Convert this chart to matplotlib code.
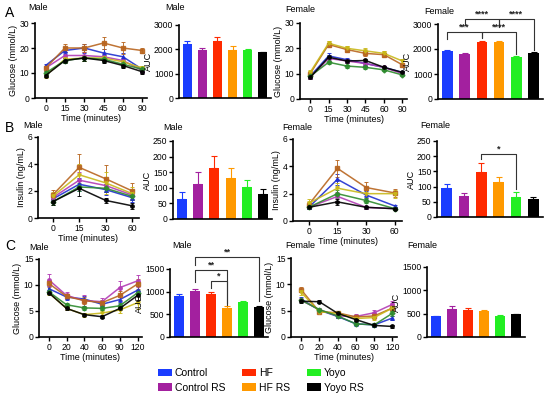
import matplotlib
matplotlib.use("Agg")
import matplotlib.pyplot as plt
from matplotlib.patches import Patch

plt.rcParams['font.family'] = ['Liberation Sans', 'DejaVu Sans']

groups = ['Control', 'Control RS', 'HF', 'HF RS', 'Yoyo', 'Yoyo RS']
bar_colors = ['#1a3cff', '#a3209f', '#ff2a00', '#ff9900', '#22ee22', '#000000']
line_colors = ['#1f2fd0', '#b23cb4', '#b8651f', '#c9b81a', '#2e8b2e', '#000000']
markers = ['^', 'o', 's', 'v', 'D', 'o']

# A: glucose tolerance test
gtt_t = ['0', '15', '30', '45', '60', '90']
gtt_male = {
    'Control':    [13, 19, 20, 18, 16.5, 11.5],
    'Control RS': [12, 17, 17, 16.5, 15, 11],
    'HF':         [12, 20, 20, 22, 20, 19],
    'HF RS':      [9, 15.5, 16, 16, 14.5, 12],
    'Yoyo':       [10, 15, 16, 15.5, 13.5, 11.5],
    'Yoyo RS':    [9, 15, 16, 15, 13, 10.5],
}
gtt_male_sd = {
    'Control':    [0.8, 1.5, 1.8, 1.5, 1.5, 1.0],
    'Control RS': [1.0, 1.5, 1.5, 1.5, 1.2, 1.0],
    'HF':         [1.0, 1.5, 1.5, 2.5, 2.5, 1.0],
    'HF RS':      [0.8, 1.2, 1.2, 1.2, 1.2, 1.0],
    'Yoyo':       [0.8, 1.0, 1.0, 1.0, 1.0, 0.8],
    'Yoyo RS':    [0.6, 1.0, 1.0, 1.0, 1.0, 0.8],
}
gtt_female = {
    'Control':    [9, 17, 15.5, 14, 12.5, 10.5],
    'Control RS': [8.5, 16, 15, 14, 12.5, 10],
    'HF':         [10, 21.5, 19.5, 18, 17.5, 13.5],
    'HF RS':      [10.5, 22, 20, 19, 18, 15],
    'Yoyo':       [9, 14.5, 13, 12.5, 11.5, 9.5],
    'Yoyo RS':    [8.5, 16.5, 15, 15.2, 12.5, 10.5],
}
gtt_female_sd = {
    'Control':    [0.6, 1.0, 0.8, 0.8, 0.7, 0.6],
    'Control RS': [0.6, 0.8, 0.8, 0.8, 0.7, 0.6],
    'HF':         [0.6, 0.8, 0.8, 0.9, 0.8, 0.8],
    'HF RS':      [0.6, 0.8, 0.9, 1.2, 0.9, 0.9],
    'Yoyo':       [0.5, 0.6, 0.6, 0.6, 0.6, 0.5],
    'Yoyo RS':    [0.5, 0.7, 0.7, 0.7, 0.6, 0.5],
}
gtt_auc_male = [2210, 1980, 2360, 1980, 1980, 1870]
gtt_auc_male_sd = [120, 80, 150, 150, 50, 30]
gtt_auc_female = [1910, 1820, 2280, 2280, 1690, 1850]
gtt_auc_female_sd = [50, 40, 50, 60, 30, 50]

# B: insulin
ins_t = ['0', '15', '30', '60']
ins_male = {
    'Control':    [1.4, 2.5, 2.1, 1.5],
    'Control RS': [1.5, 2.8, 2.4, 1.7],
    'HF':         [1.7, 3.75, 2.9, 2.0],
    'HF RS':      [1.6, 3.2, 2.6, 1.8],
    'Yoyo':       [1.2, 2.3, 2.2, 1.6],
    'Yoyo RS':    [1.2, 2.2, 1.3, 0.9],
}
ins_male_sd = {
    'Control':    [0.2, 0.5, 0.4, 0.3],
    'Control RS': [0.3, 0.6, 0.5, 0.4],
    'HF':         [0.4, 1.0, 1.0, 0.6],
    'HF RS':      [0.3, 0.8, 0.8, 0.5],
    'Yoyo':       [0.2, 0.3, 0.3, 0.3],
    'Yoyo RS':    [0.2, 0.6, 0.2, 0.2],
}
ins_female = {
    'Control':    [1.0, 3.05, 1.9, 1.1],
    'Control RS': [1.0, 1.8, 1.0, 0.9],
    'HF':         [1.2, 3.85, 2.45, 2.05],
    'HF RS':      [1.3, 2.4, 2.0, 2.0],
    'Yoyo':       [1.0, 2.0, 1.5, 0.9],
    'Yoyo RS':    [1.0, 1.4, 1.0, 0.9],
}
ins_female_sd = {
    'Control':    [0.1, 0.4, 0.3, 0.1],
    'Control RS': [0.1, 0.3, 0.1, 0.1],
    'HF':         [0.2, 0.6, 0.4, 0.3],
    'HF RS':      [0.3, 0.4, 0.3, 0.3],
    'Yoyo':       [0.1, 0.3, 0.2, 0.1],
    'Yoyo RS':    [0.1, 0.2, 0.1, 0.1],
}
ins_auc_male = [64, 113, 164, 131, 104, 81]
ins_auc_male_sd = [24, 38, 37, 34, 20, 16]
ins_auc_female = [94, 68, 149, 115, 66, 60]
ins_auc_female_sd = [15, 12, 28, 15, 15, 7]

# C: insulin tolerance test
itt_t = ['0', '20', '40', '60', '90', '120']
itt_male = {
    'Control':    [9.3, 7.7, 7.3, 6.3, 7.2, 9.0],
    'Control RS': [11, 8.0, 7.0, 6.8, 9.5, 10.8],
    'HF':         [10.3, 7.8, 7.0, 6.6, 8.0, 10.2],
    'HF RS':      [8.5, 5.5, 4.3, 4.6, 5.2, 6.6],
    'Yoyo':       [8.7, 6.2, 5.6, 5.5, 6.0, 8.5],
    'Yoyo RS':    [8.5, 5.5, 4.3, 3.9, 5.5, 8.0],
}
itt_male_sd = {
    'Control':    [0.6, 0.5, 0.5, 0.5, 0.8, 0.8],
    'Control RS': [1.2, 0.6, 1.0, 0.7, 1.2, 1.2],
    'HF':         [0.6, 0.5, 0.6, 0.6, 0.8, 0.9],
    'HF RS':      [0.5, 0.4, 0.4, 0.5, 0.6, 1.2],
    'Yoyo':       [0.3, 0.4, 0.4, 0.4, 0.5, 0.6],
    'Yoyo RS':    [0.3, 0.3, 0.3, 0.3, 0.4, 0.8],
}
itt_female = {
    'Control':    [7.2, 5.1, 3.9, 2.5, 2.3, 3.6],
    'Control RS': [7.0, 5.2, 4.0, 3.9, 4.6, 6.2],
    'HF':         [9.0, 4.8, 4.6, 3.8, 4.0, 5.5],
    'HF RS':      [8.5, 4.8, 4.5, 3.5, 3.7, 5.5],
    'Yoyo':       [7.0, 5.2, 4.0, 2.5, 2.3, 4.5],
    'Yoyo RS':    [6.8, 6.7, 4.5, 3.3, 2.2, 2.0],
}
itt_female_sd = {
    'Control':    [0.4, 0.3, 0.3, 0.3, 0.3, 0.4],
    'Control RS': [0.4, 0.3, 0.3, 0.4, 0.5, 0.6],
    'HF':         [0.5, 0.3, 0.3, 0.4, 0.5, 0.6],
    'HF RS':      [0.5, 0.3, 0.3, 0.4, 0.5, 0.5],
    'Yoyo':       [0.3, 0.3, 0.3, 0.3, 0.3, 0.5],
    'Yoyo RS':    [0.3, 0.3, 0.3, 0.3, 0.3, 0.3],
}
itt_auc_male = [896, 1005, 947, 641, 765, 655]
itt_auc_male_sd = [60, 50, 50, 40, 30, 30]
itt_auc_female = [440, 605, 584, 548, 454, 483]
itt_auc_female_sd = [15, 50, 40, 25, 15, 10]

# significance brackets: (left bar, right bar, height, left leg end, right leg end, label)
sig_gtt_female = [(0, 2, 2680, 2400, 2480, '***'), (2, 4, 2680, 2450, 1800, '****'),
                  (1, 3, 3210, 2950, 2900, '****'), (3, 5, 3210, 2950, 1950, '****')]
sig_ins_female = [(2, 4, 208, 190, 91, '*')]
sig_itt_male = [(1, 5, 1770, 1590, 790, '**'), (1, 3, 1480, 1220, 710, '**'),
                (2, 3, 1245, 1090, 740, '*')]

W, H = 550, 396
fig = plt.figure(figsize=(W / 100, H / 100), dpi=100)
FS = 6.5


def box(l, t, r, b):
    return fig.add_axes([l / W, 1 - b / H, (r - l) / W, (b - t) / H])


def style(ax, yticks):
    for s in ['top', 'right']:
        ax.spines[s].set_visible(False)
    for s in ['left', 'bottom']:
        ax.spines[s].set_linewidth(1.2)
    ax.set_yticks(yticks)
    ax.set_ylim(yticks[0], yticks[-1])
    ax.tick_params(labelsize=6.2, width=1, length=2.8, pad=1.2)


def line_panel(pos, times, means, sds, yticks, ylabel):
    ax = box(*pos)
    x = list(range(len(times)))
    for g, c, m in zip(groups, line_colors, markers):
        ax.errorbar(x, means[g], yerr=sds[g], color=c, ecolor=c, elinewidth=0.7,
                    capsize=1.5, capthick=0.7, lw=1.1, marker=m, ms=2.5,
                    alpha=0.9)
    style(ax, yticks)
    ax.set_xticks(x)
    ax.set_xticklabels(times)
    ax.set_xlim(-0.55, len(times) - 0.75)
    ax.set_xlabel('Time (minutes)', fontsize=FS, labelpad=1)
    ax.set_ylabel(ylabel, fontsize=FS, labelpad=1)
    return ax


def bar_panel(pos, vals, sds, yticks, sigs=()):
    ax = box(*pos)
    x = list(range(len(vals)))
    ax.bar(x, vals, width=0.62, color=bar_colors)
    for xi, v, e, c in zip(x, vals, sds, bar_colors):
        ax.errorbar(xi, v, yerr=[[0], [e]], color=c, elinewidth=0.8,
                    capsize=2.5, capthick=0.8)
    style(ax, yticks)
    ax.set_xticks([])
    ax.set_xlim(-0.55, len(vals) - 0.45)
    ax.set_ylabel('AUC', fontsize=FS, labelpad=0.5)
    for i, j, y, yl, yr, lab in sigs:
        ax.plot([i, i, j, j], [yl, y, y, yr], color='#333333', lw=0.8,
                clip_on=False)
        ax.text((i + j) / 2, y, lab, ha='center', va='bottom', fontsize=6.5,
                fontweight='bold', color='#222222')
    return ax


def title(x, y, s):
    fig.text(x / W, 1 - y / H, s, fontsize=FS, ha='left', va='center')


# Row A
line_panel((35, 23, 147, 98), gtt_t, gtt_male, gtt_male_sd, [0, 10, 20, 30], 'Glucose (mmol/L)')
bar_panel((179, 25, 271, 98), gtt_auc_male, gtt_auc_male_sd, [0, 1000, 2000, 3000])
line_panel((300, 23, 407, 99), gtt_t, gtt_female, gtt_female_sd, [0, 10, 20, 30], 'Glucose (mmol/L)')
bar_panel((438, 24, 543, 99), gtt_auc_female, gtt_auc_female_sd, [0, 1000, 2000, 3000], sig_gtt_female)

# Row B
line_panel((38, 137, 139, 218), ins_t, ins_male, ins_male_sd, [0, 2, 4, 6], 'Insulin (ng/mL)')
bar_panel((173, 141, 272, 219), ins_auc_male, ins_auc_male_sd, [0, 50, 100, 150, 200, 250])
line_panel((293, 139, 402, 221), ins_t, ins_female, ins_female_sd, [0, 2, 4, 6], 'Insulin (ng/mL)')
bar_panel((437, 141, 543, 217), ins_auc_female, ins_auc_female_sd, [0, 50, 100, 150, 200, 250], sig_ins_female)

# Row C
line_panel((39, 259, 142, 337), itt_t, itt_male, itt_male_sd, [0, 5, 10, 15], 'Glucose (mmol/L)')
bar_panel((170, 269, 268, 337), itt_auc_male, itt_auc_male_sd, [0, 500, 1000, 1500], sig_itt_male)
line_panel((291, 258, 397, 337), itt_t, itt_female, itt_female_sd, [0, 5, 10, 15], 'Glucose (mmol/L)')
bar_panel((427, 267, 525, 337), itt_auc_female, itt_auc_female_sd, [0, 500, 1000, 1500])

# titles and panel letters
for x, y, s in [(28, 8, 'Male'), (165, 7, 'Male'), (285, 10, 'Female'), (424, 11, 'Female'),
                (23, 126, 'Male'), (163, 127, 'Male'), (282, 127, 'Female'), (420, 125, 'Female'),
                (29, 248, 'Male'), (172, 245, 'Male'), (285, 246, 'Female'), (407, 245, 'Female')]:
    title(x, y, s)
for y, s in [(13, 'A'), (128, 'B'), (246, 'C')]:
    fig.text(5 / W, 1 - y / H, s, fontsize=10, ha='left', va='center')

# legend: three columns of two entries each
handles = [Patch(facecolor=c, label=g) for g, c in zip(groups, bar_colors)]
for k, x in enumerate([158, 242, 307]):
    fig.legend(handles=handles[2 * k:2 * k + 2],
               loc='upper left', bbox_to_anchor=(x / W, 1 - 368 / H), frameon=False,
               fontsize=7.5, handlelength=1.3, handleheight=0.7, labelspacing=0.45,
               handletextpad=0.3, borderaxespad=0, borderpad=0)

fig.savefig('out.png', dpi=100)
